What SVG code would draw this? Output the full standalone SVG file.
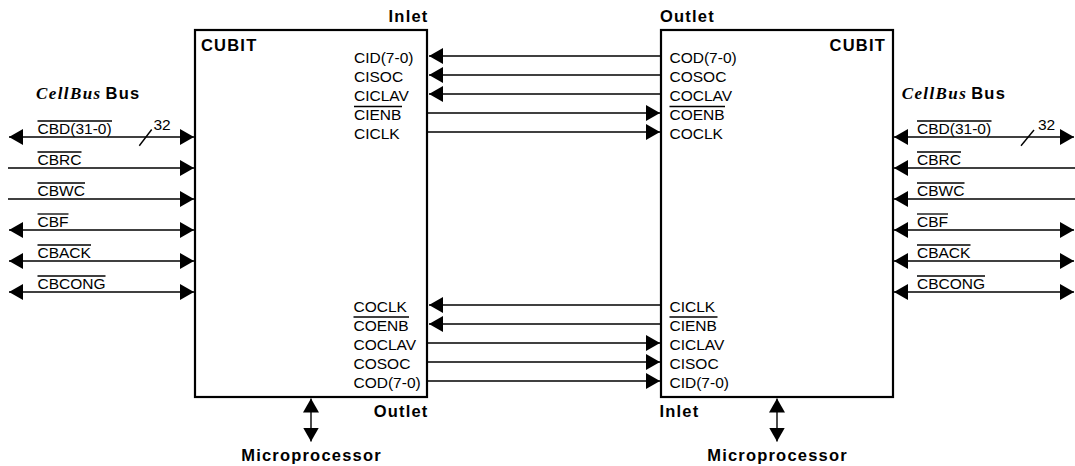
<svg xmlns="http://www.w3.org/2000/svg" width="1075" height="466" viewBox="0 0 1075 466">
<style>
.box{fill:#fff;stroke:#000;stroke-width:2.2}
.sig{font-family:"Liberation Sans",Arial,sans-serif;font-size:15.5px;fill:#000}
.b{font-family:"Liberation Sans",Arial,sans-serif;font-size:16.5px;font-weight:bold;letter-spacing:1.2px;fill:#000}
.cb{font-family:"Liberation Serif","Times New Roman",serif;font-size:17px;font-weight:bold;font-style:italic;letter-spacing:1.4px;fill:#000}
.ln{stroke:#000;stroke-width:1.4;fill:none}
.ol{stroke:#000;stroke-width:1.3;fill:none}
.e{marker-end:url(#ah)}
.d{marker-start:url(#ah);marker-end:url(#ah)}
</style>
<defs>
<marker id="ah" markerUnits="userSpaceOnUse" markerWidth="14" markerHeight="16" refX="14" refY="8" orient="auto-start-reverse" viewBox="0 0 14 16">
<path d="M0,0 L14,8 L0,16 z" fill="#000"/>
</marker>
</defs>
<rect width="1075" height="466" fill="#fff"/>

<g id="connectors">
<line class="ln d" x1="9" y1="137" x2="194" y2="137"/>
<line class="ln" x1="139.3" y1="145.7" x2="151.7" y2="129.5"/>
<line class="ln e" x1="8" y1="168" x2="194" y2="168"/>
<line class="ln e" x1="8" y1="199" x2="194" y2="199"/>
<line class="ln d" x1="9" y1="230" x2="194" y2="230"/>
<line class="ln d" x1="9" y1="261" x2="194" y2="261"/>
<line class="ln d" x1="9" y1="292" x2="194" y2="292"/>

<line class="ln d" x1="894" y1="137" x2="1074" y2="137"/>
<line class="ln" x1="1021" y1="145.7" x2="1034" y2="130"/>
<line class="ln e" x1="1075" y1="168" x2="894" y2="168"/>
<line class="ln e" x1="1075" y1="199" x2="894" y2="199"/>
<line class="ln d" x1="894" y1="230" x2="1074" y2="230"/>
<line class="ln d" x1="894" y1="261" x2="1074" y2="261"/>
<line class="ln d" x1="894" y1="292" x2="1074" y2="292"/>

<line class="ln e" x1="661" y1="56" x2="429" y2="56"/>
<line class="ln e" x1="661" y1="75" x2="429" y2="75"/>
<line class="ln e" x1="661" y1="94" x2="429" y2="94"/>
<line class="ln e" x1="427" y1="113" x2="660" y2="113"/>
<line class="ln e" x1="427" y1="132" x2="660" y2="132"/>

<line class="ln e" x1="661" y1="305" x2="429" y2="305"/>
<line class="ln e" x1="661" y1="324" x2="429" y2="324"/>
<line class="ln e" x1="427" y1="343" x2="660" y2="343"/>
<line class="ln e" x1="427" y1="362" x2="660" y2="362"/>
<line class="ln e" x1="427" y1="381" x2="660" y2="381"/>

<line class="ln d" x1="311" y1="398.5" x2="311" y2="441.5"/>
<line class="ln d" x1="777" y1="398.5" x2="777" y2="441.5"/>
</g>

<g id="cubit-left">
<rect class="box" x="195" y="30" width="232" height="367"/>
<text class="b" x="201" y="51">CUBIT</text>
<text class="sig" x="354" y="62.5">CID(7-0)</text>
<text class="sig" x="354" y="81.5">CISOC</text>
<text class="sig" x="354" y="100.5">CICLAV</text>
<text class="sig" x="354" y="119.5">CIENB</text>
<line class="ol" x1="354" y1="106.5" x2="402" y2="106.5"/>
<text class="sig" x="354" y="138.5">CICLK</text>
<text class="sig" x="353.5" y="311.5">COCLK</text>
<text class="sig" x="353.5" y="330.5">COENB</text>
<line class="ol" x1="353.5" y1="317" x2="409" y2="317"/>
<text class="sig" x="353.5" y="349.5">COCLAV</text>
<text class="sig" x="353.5" y="368.5">COSOC</text>
<text class="sig" x="353.5" y="387.5">COD(7-0)</text>
</g>
<g id="cubit-right">
<rect class="box" x="661" y="30" width="232" height="367"/>
<text class="b" x="886" y="51" text-anchor="end">CUBIT</text>
<text class="sig" x="669.5" y="62.5">COD(7-0)</text>
<text class="sig" x="669.5" y="81.5">COSOC</text>
<text class="sig" x="669.5" y="100.5">COCLAV</text>
<text class="sig" x="669.5" y="119.5">COENB</text>
<line class="ol" x1="669.5" y1="106.5" x2="725" y2="106.5"/>
<text class="sig" x="669.5" y="138.5">COCLK</text>
<text class="sig" x="669.5" y="311.5">CICLK</text>
<text class="sig" x="669.5" y="330.5">CIENB</text>
<line class="ol" x1="669.5" y1="317" x2="717.5" y2="317"/>
<text class="sig" x="669.5" y="349.5">CICLAV</text>
<text class="sig" x="669.5" y="368.5">CISOC</text>
<text class="sig" x="669.5" y="387.5">CID(7-0)</text>
</g>

<g id="labels-left">
<text class="b" x="428.5" y="22" text-anchor="end">Inlet</text>
<text class="b" x="428.5" y="416.7" text-anchor="end">Outlet</text>
<text class="b" x="311.5" y="460.7" text-anchor="middle">Microprocessor</text>
<text x="36" y="99"><tspan class="cb">CellBus</tspan><tspan class="b" dx="4">Bus</tspan></text>
<text class="sig" x="153.5" y="130">32</text>
<text class="sig" x="37.5" y="133.5">CBD(31-0)</text>
<line class="ol" x1="37.5" y1="121" x2="112" y2="121"/>
<text class="sig" x="37.5" y="164.5">CBRC</text>
<line class="ol" x1="37.5" y1="152" x2="81.5" y2="152"/>
<text class="sig" x="37.5" y="195.5">CBWC</text>
<line class="ol" x1="37.5" y1="183" x2="85" y2="183"/>
<text class="sig" x="37.5" y="226.5">CBF</text>
<line class="ol" x1="37.5" y1="214" x2="68.5" y2="214"/>
<text class="sig" x="37.5" y="257.5">CBACK</text>
<line class="ol" x1="37.5" y1="245" x2="91" y2="245"/>
<text class="sig" x="37.5" y="288.5">CBCONG</text>
<line class="ol" x1="37.5" y1="276" x2="105.5" y2="276"/>
</g>
<g id="labels-right">
<text class="b" x="660" y="21.5">Outlet</text>
<text class="b" x="659.5" y="416.7">Inlet</text>
<text class="b" x="777.5" y="460.7" text-anchor="middle">Microprocessor</text>
<text x="901.7" y="99"><tspan class="cb">CellBus</tspan><tspan class="b" dx="4">Bus</tspan></text>
<text class="sig" x="1038" y="130">32</text>
<text class="sig" x="917" y="133.5">CBD(31-0)</text>
<line class="ol" x1="917" y1="121" x2="991.5" y2="121"/>
<text class="sig" x="917" y="164.5">CBRC</text>
<line class="ol" x1="917" y1="152" x2="961" y2="152"/>
<text class="sig" x="917" y="195.5">CBWC</text>
<line class="ol" x1="917" y1="183" x2="964.5" y2="183"/>
<text class="sig" x="917" y="226.5">CBF</text>
<line class="ol" x1="917" y1="214" x2="948" y2="214"/>
<text class="sig" x="917" y="257.5">CBACK</text>
<line class="ol" x1="917" y1="245" x2="970.5" y2="245"/>
<text class="sig" x="917" y="288.5">CBCONG</text>
<line class="ol" x1="917" y1="276" x2="985" y2="276"/>
</g>
</svg>
